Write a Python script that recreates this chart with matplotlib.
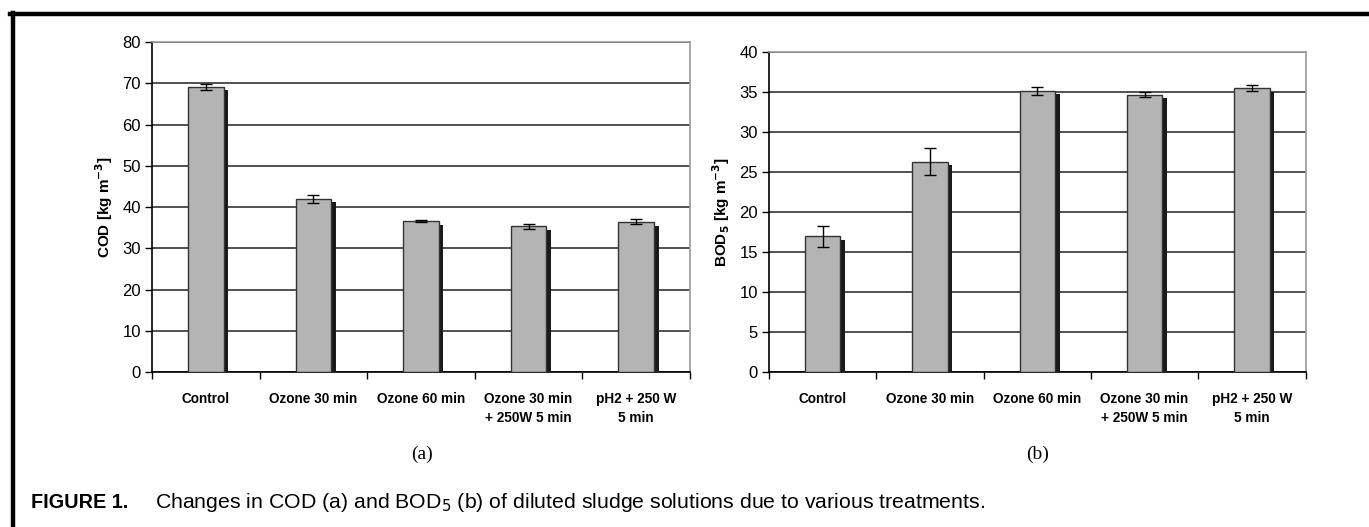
import numpy as np
import matplotlib.pyplot as plt
import matplotlib.patheffects as pe
from matplotlib.lines import Line2D

categories = ["Control", "Ozone 30 min", "Ozone 60 min", "Ozone 30 min\n+ 250W 5 min", "pH2 + 250 W\n5 min"]
cod = [69.2, 42.0, 36.6, 35.3, 36.4]
cod_err = [0.7, 1.0, 0.3, 0.6, 0.6]
bod = [17.0, 26.3, 35.2, 34.7, 35.5]
bod_err = [1.3, 1.7, 0.5, 0.3, 0.4]

plt.rcParams['font.family'] = ['Liberation Sans', 'DejaVu Sans']

fig = plt.figure(figsize=(13.69, 5.27), dpi=100)
ax1 = fig.add_axes([0.111, 0.294, 0.393, 0.626])
ax2 = fig.add_axes([0.5617, 0.294, 0.392, 0.607])


def panel(ax, vals, errs, ymax, step, ylabel):
    x = np.arange(len(categories))
    ax.set_axisbelow(True)
    ax.yaxis.grid(True, color='#222222', linewidth=1.1)
    bars = ax.bar(x, vals, width=0.33, color='#b4b4b4', edgecolor='#333333', linewidth=1.0, zorder=3)
    for b in bars:
        b.set_path_effects([pe.SimplePatchShadow(offset=(3.3, -2.6), shadow_rgbFace='#1a1a1a', alpha=1.0), pe.Normal()])
    ax.errorbar(x, vals, yerr=errs, fmt='none', ecolor='black', elinewidth=1.0, capsize=4, capthick=1.0, zorder=4)
    ax.set_xlim(-0.5, len(categories) - 0.5)
    ax.set_ylim(0, ymax)
    ax.set_yticks(np.arange(0, ymax + step, step))
    ax.set_xticks(x)
    ax.set_xticklabels(categories, fontsize=9.8, fontweight='bold', linespacing=1.5)
    ax.set_xticks(np.arange(-0.5, len(categories), 1.0), minor=True)
    ax.tick_params(axis='x', which='major', length=0, pad=14)
    ax.tick_params(axis='x', which='minor', length=5, width=1, direction='out')
    ax.tick_params(axis='y', length=5, width=1, labelsize=12, pad=3)
    ax.set_ylabel(ylabel, fontsize=11, fontweight='bold', labelpad=5)
    for s in ['left', 'bottom']:
        ax.spines[s].set_color('black')
        ax.spines[s].set_linewidth(1.2)
    for s in ['top', 'right']:
        ax.spines[s].set_color('#999999')
        ax.spines[s].set_linewidth(1.2)


panel(ax1, cod, cod_err, 80, 10, r'COD [kg m$^{\mathbf{-3}}$]')
panel(ax2, bod, bod_err, 40, 5, r'BOD$_\mathbf{5}$ [kg m$^{\mathbf{-3}}$]')

fig.text(0.3085, 0.137, '(a)', ha='center', va='center', family='Liberation Serif', fontsize=14)
fig.text(0.758, 0.137, '(b)', ha='center', va='center', family='Liberation Serif', fontsize=14)

fig.text(0.023, 0.046, 'FIGURE 1.', ha='left', va='center', fontsize=14.3, fontweight='bold')
fig.text(0.113, 0.046, r'Changes in COD (a) and BOD$_5$ (b) of diluted sludge solutions due to various treatments.',
         ha='left', va='center', fontsize=15.3)

fig.add_artist(Line2D([0.0075, 1.0], [0.974, 0.974], color='black', linewidth=3.2, transform=fig.transFigure))
fig.add_artist(Line2D([0.0095, 0.0095], [0.0, 0.976], color='black', linewidth=3.2, transform=fig.transFigure))

fig.savefig('out.png', dpi=100)
